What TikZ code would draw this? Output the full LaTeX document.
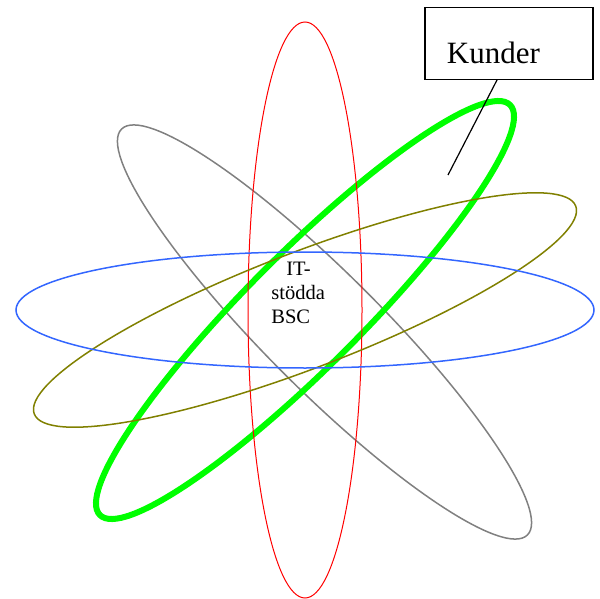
\documentclass[tikz,border=0pt]{standalone}
\usepackage{fontspec}
\setmainfont{Liberation Serif}
\usetikzlibrary{calc}
\definecolor{ringred}{HTML}{FF0000}
\definecolor{ringblue}{HTML}{3366FF}
\definecolor{ringgray}{HTML}{808080}
\definecolor{ringolive}{HTML}{808000}
\definecolor{ringgreen}{HTML}{00FF00}

\begin{document}
\begin{tikzpicture}[
  x=0.5pt, y=-0.5pt,
  ring/.style={line width=0.75pt},
  hubtext/.style={font=\fontsize{10.25pt}{12pt}\selectfont, align=left, inner sep=0pt, anchor=north west},
  namebox/.style={draw, line width=0.6pt, inner xsep=11pt, inner ysep=0pt, text width=62pt,
    text height=28pt, text depth=8pt, align=left, font=\fontsize{15.5pt}{18pt}\selectfont, anchor=north west},
  pointer/.style={draw=black, line width=0.6pt}
]
\useasboundingbox (0,0) rectangle (600,599);

\coordinate (hub) at (305,310);
\coordinate (hubgray) at (324.5,332);

% rings, back to front
\draw[ring, ringgray, rotate around={-45:(hubgray)}] (hubgray) ellipse [x radius=143.5pt, y radius=29pt];
\draw[ring, ringgreen, line width=3pt, rotate around={45:(hub)}] (hub) ellipse [x radius=145pt, y radius=28.5pt];
\draw[ring, ringred, line width=0.5pt] (hub) ellipse [x radius=28.5pt, y radius=144pt];
\draw[ring, ringolive, rotate around={21:(hub)}] (hub) ellipse [x radius=145pt, y radius=29pt];
\draw[ring, ringblue] (hub) ellipse [x radius=144.5pt, y radius=29pt];

\node[hubtext] (bsc) at (271,261.5) {\hspace*{7.5pt}IT-\\stödda\\BSC};

\node[namebox] (kunder) at (424.3,6.7) {Kunder};
\coordinate (kundertip) at (448,175);
\draw[pointer] ($(kunder.south west)!0.43!(kunder.south east)$) -- (kundertip);
\end{tikzpicture}
\end{document}
